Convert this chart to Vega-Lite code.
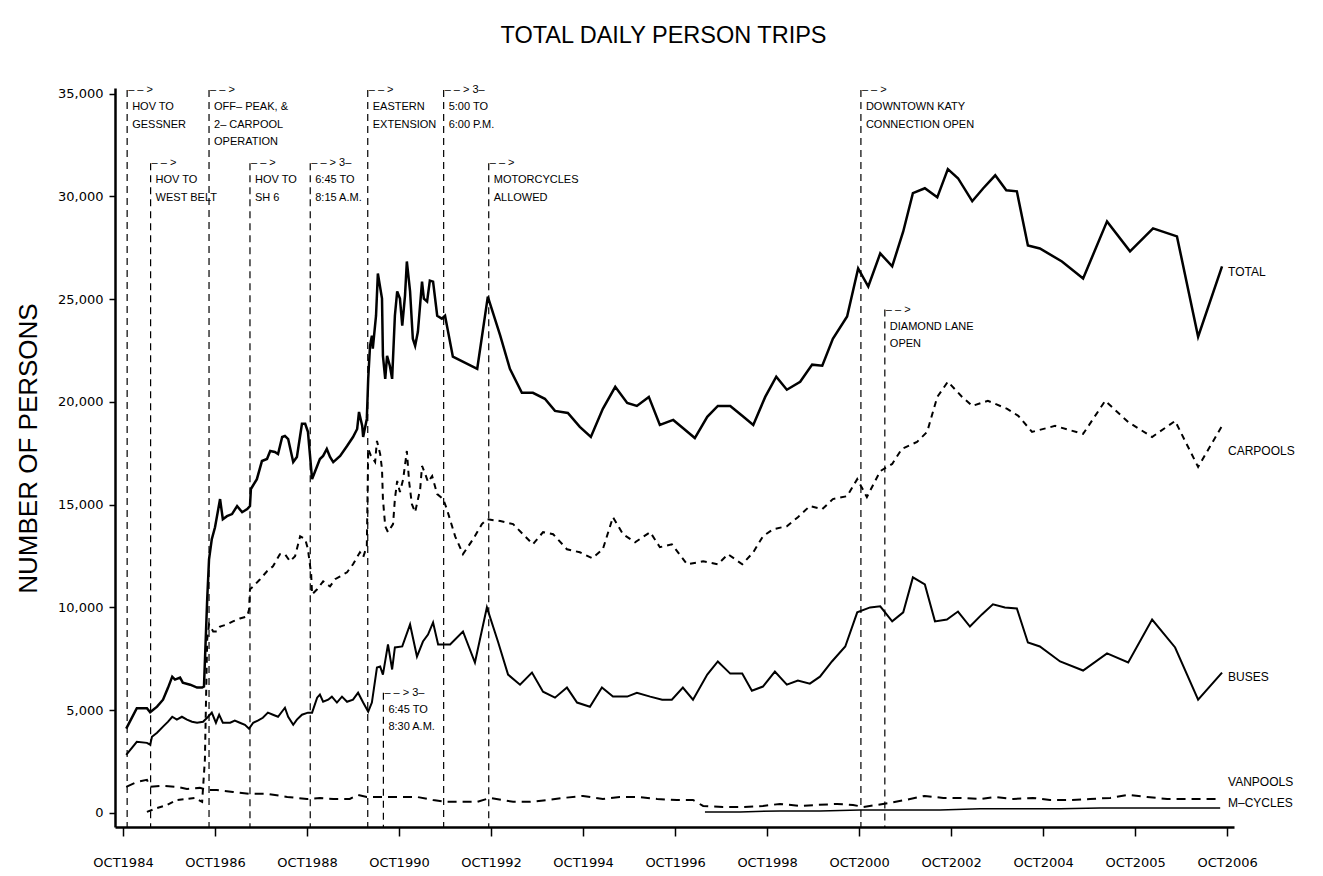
{
  "$schema": "https://vega.github.io/schema/vega-lite/v6.json",
  "width": 1119,
  "height": 739,
  "autosize": {"type": "none"},
  "padding": {"left": 115, "top": 88, "right": 89, "bottom": 49},
  "background": "white",
  "title": {
    "text": "TOTAL DAILY PERSON TRIPS",
    "font": "Liberation Sans",
    "fontSize": 23.5,
    "fontWeight": "normal",
    "color": "black",
    "anchor": "middle",
    "frame": "group",
    "dx": -11,
    "offset": 37
  },
  "config": {"view": {"stroke": null}},
  "datasets": {
    "total": [
      {"year":1984.82,"persons":4100},{"year":1985.05,"persons":5100},{"year":1985.27,"persons":5100},{"year":1985.34,"persons":4900},
      {"year":1985.49,"persons":5170},{"year":1985.62,"persons":5510},{"year":1985.73,"persons":6100},{"year":1985.82,"persons":6630},
      {"year":1985.88,"persons":6490},{"year":1985.99,"persons":6590},{"year":1986.05,"persons":6340},{"year":1986.21,"persons":6240},
      {"year":1986.36,"persons":6100},{"year":1986.47,"persons":6100},{"year":1986.51,"persons":6150},{"year":1986.58,"persons":10390},
      {"year":1986.62,"persons":12340},{"year":1986.68,"persons":13320},{"year":1986.75,"persons":13900},{"year":1986.86,"persons":15270},
      {"year":1986.92,"persons":14290},{"year":1987.01,"persons":14440},{"year":1987.12,"persons":14540},{"year":1987.23,"persons":14930},
      {"year":1987.34,"persons":14630},{"year":1987.45,"persons":14780},{"year":1987.51,"persons":14930},{"year":1987.53,"persons":15760},
      {"year":1987.66,"persons":16240},{"year":1987.77,"persons":17120},{"year":1987.88,"persons":17220},{"year":1987.95,"persons":17610},
      {"year":1988.05,"persons":17560},{"year":1988.12,"persons":17460},{"year":1988.21,"persons":18290},{"year":1988.27,"persons":18340},
      {"year":1988.34,"persons":18190},{"year":1988.45,"persons":17070},{"year":1988.53,"persons":17320},{"year":1988.64,"persons":18930},
      {"year":1988.71,"persons":18930},{"year":1988.77,"persons":18540},{"year":1988.86,"persons":16240},{"year":1988.92,"persons":16590},
      {"year":1989.03,"persons":17220},{"year":1989.10,"persons":17370},{"year":1989.18,"persons":17710},{"year":1989.25,"persons":17320},
      {"year":1989.32,"persons":17070},{"year":1989.47,"persons":17370},{"year":1989.62,"persons":17850},{"year":1989.75,"persons":18290},
      {"year":1989.84,"persons":18680},{"year":1989.88,"persons":19510},{"year":1989.95,"persons":18830},{"year":1989.97,"persons":18290},
      {"year":1990.05,"persons":19170},{"year":1990.08,"persons":21120},{"year":1990.12,"persons":22730},{"year":1990.16,"persons":23220},
      {"year":1990.18,"persons":22590},{"year":1990.25,"persons":24190},{"year":1990.29,"persons":26240},{"year":1990.38,"persons":25020},
      {"year":1990.40,"persons":22240},{"year":1990.45,"persons":21120},{"year":1990.49,"persons":22240},{"year":1990.55,"persons":21760},
      {"year":1990.60,"persons":21120},{"year":1990.66,"persons":24190},{"year":1990.71,"persons":25370},{"year":1990.77,"persons":25020},
      {"year":1990.82,"persons":23710},{"year":1990.88,"persons":25170},{"year":1990.92,"persons":26830},{"year":1990.99,"persons":25370},
      {"year":1991.05,"persons":23070},{"year":1991.10,"persons":22730},{"year":1991.16,"persons":23410},{"year":1991.25,"persons":25850},
      {"year":1991.29,"persons":25020},{"year":1991.36,"persons":24880},{"year":1991.42,"persons":25900},{"year":1991.49,"persons":25850},
      {"year":1991.58,"persons":24190},{"year":1991.68,"persons":24050},{"year":1991.75,"persons":24190},{"year":1991.92,"persons":22200},
      {"year":1992.45,"persons":21610},{"year":1992.68,"persons":25120},{"year":1992.95,"persons":23220},{"year":1993.16,"persons":21610},
      {"year":1993.42,"persons":20440},{"year":1993.66,"persons":20440},{"year":1993.92,"persons":20150},{"year":1994.14,"persons":19560},
      {"year":1994.42,"persons":19460},{"year":1994.68,"persons":18780},{"year":1994.92,"persons":18290},{"year":1995.18,"persons":19660},
      {"year":1995.45,"persons":20730},{"year":1995.71,"persons":19950},{"year":1995.92,"persons":19800},{"year":1996.18,"persons":20240},
      {"year":1996.42,"persons":18880},{"year":1996.71,"persons":19120},{"year":1996.92,"persons":18730},{"year":1997.18,"persons":18240},
      {"year":1997.45,"persons":19270},{"year":1997.68,"persons":19800},{"year":1997.95,"persons":19800},{"year":1998.21,"persons":19320},
      {"year":1998.45,"persons":18880},{"year":1998.71,"persons":20240},{"year":1998.95,"persons":21220},{"year":1999.18,"persons":20590},
      {"year":1999.47,"persons":20980},{"year":1999.73,"persons":21810},{"year":1999.95,"persons":21760},{"year":2000.18,"persons":23070},
      {"year":2000.49,"persons":24150},{"year":2000.73,"persons":26490},{"year":2000.95,"persons":25610},{"year":2001.21,"persons":27220},
      {"year":2001.47,"persons":26590},{"year":2001.71,"persons":28290},{"year":2001.92,"persons":30150},{"year":2002.18,"persons":30390},
      {"year":2002.45,"persons":29950},{"year":2002.68,"persons":31320},{"year":2002.90,"persons":30880},{"year":2003.21,"persons":29760},
      {"year":2003.45,"persons":30390},{"year":2003.71,"persons":31020},{"year":2003.95,"persons":30290},{"year":2004.18,"persons":30240},
      {"year":2004.42,"persons":27610},{"year":2004.68,"persons":27460},{"year":2005.16,"persons":26830},{"year":2005.62,"persons":26000},
      {"year":2006.14,"persons":28780},{"year":2006.64,"persons":27320},{"year":2007.14,"persons":28440},{"year":2007.66,"persons":28050},
      {"year":2008.12,"persons":23170},{"year":2008.64,"persons":26590}
    ],
    "carpools": [
      {"year":1985.27,"persons":50},{"year":1985.49,"persons":240},{"year":1985.71,"persons":390},{"year":1985.92,"persons":630},
      {"year":1986.14,"persons":680},{"year":1986.32,"persons":730},{"year":1986.47,"persons":540},{"year":1986.53,"persons":2590},
      {"year":1986.58,"persons":8440},{"year":1986.62,"persons":9170},{"year":1986.71,"persons":8830},{"year":1986.79,"persons":8830},
      {"year":1986.86,"persons":9070},{"year":1987.01,"persons":9170},{"year":1987.14,"persons":9320},{"year":1987.29,"persons":9460},
      {"year":1987.45,"persons":9560},{"year":1987.49,"persons":9900},{"year":1987.51,"persons":10880},{"year":1987.58,"persons":11020},
      {"year":1987.73,"persons":11370},{"year":1987.88,"persons":11760},{"year":1988.01,"persons":12000},{"year":1988.16,"persons":12590},
      {"year":1988.27,"persons":12590},{"year":1988.38,"persons":12240},{"year":1988.49,"persons":12490},{"year":1988.60,"persons":13460},
      {"year":1988.71,"persons":13320},{"year":1988.77,"persons":12830},{"year":1988.84,"persons":11610},{"year":1988.86,"persons":10630},
      {"year":1988.97,"persons":10880},{"year":1989.10,"persons":11270},{"year":1989.25,"persons":11020},{"year":1989.36,"persons":11370},
      {"year":1989.47,"persons":11510},{"year":1989.62,"persons":11710},{"year":1989.75,"persons":12100},{"year":1989.90,"persons":12680},
      {"year":1989.97,"persons":12440},{"year":1990.05,"persons":12980},{"year":1990.08,"persons":17710},{"year":1990.14,"persons":17370},
      {"year":1990.23,"persons":17070},{"year":1990.27,"persons":18100},{"year":1990.34,"persons":17460},{"year":1990.38,"persons":16730},
      {"year":1990.40,"persons":15270},{"year":1990.45,"persons":13950},{"year":1990.51,"persons":13660},{"year":1990.62,"persons":14050},
      {"year":1990.66,"persons":15270},{"year":1990.71,"persons":16150},{"year":1990.77,"persons":15610},{"year":1990.84,"persons":16240},
      {"year":1990.92,"persons":17610},{"year":1990.97,"persons":16100},{"year":1991.03,"persons":15020},{"year":1991.10,"persons":14630},
      {"year":1991.21,"persons":15760},{"year":1991.25,"persons":16880},{"year":1991.32,"persons":16490},{"year":1991.38,"persons":16100},
      {"year":1991.47,"persons":16390},{"year":1991.58,"persons":15510},{"year":1991.71,"persons":15270},{"year":1991.79,"persons":14780},
      {"year":1991.97,"persons":13460},{"year":1992.14,"persons":12590},{"year":1992.36,"persons":13320},{"year":1992.55,"persons":14050},
      {"year":1992.66,"persons":14290},{"year":1992.95,"persons":14200},{"year":1993.23,"persons":14050},{"year":1993.66,"persons":13070},
      {"year":1993.88,"persons":13660},{"year":1994.10,"persons":13560},{"year":1994.40,"persons":12830},{"year":1994.68,"persons":12680},
      {"year":1994.95,"persons":12390},{"year":1995.18,"persons":12830},{"year":1995.40,"persons":14390},{"year":1995.62,"persons":13560},
      {"year":1995.88,"persons":13170},{"year":1996.21,"persons":13660},{"year":1996.42,"persons":12930},{"year":1996.68,"persons":13070},
      {"year":1997.01,"persons":12100},{"year":1997.36,"persons":12240},{"year":1997.68,"persons":12100},{"year":1997.90,"persons":12590},
      {"year":1998.21,"persons":12100},{"year":1998.45,"persons":12680},{"year":1998.66,"persons":13460},{"year":1998.88,"persons":13800},
      {"year":1999.18,"persons":13950},{"year":1999.42,"persons":14390},{"year":1999.68,"persons":14930},{"year":1999.95,"persons":14780},
      {"year":2000.18,"persons":15270},{"year":2000.49,"persons":15410},{"year":2000.71,"persons":16240},{"year":2000.92,"persons":15370},
      {"year":2001.21,"persons":16630},{"year":2001.47,"persons":16980},{"year":2001.68,"persons":17710},{"year":2002.01,"persons":18050},
      {"year":2002.23,"persons":18540},{"year":2002.45,"persons":20240},{"year":2002.68,"persons":20980},{"year":2002.99,"persons":20240},
      {"year":2003.21,"persons":19800},{"year":2003.55,"persons":20050},{"year":2003.97,"persons":19660},{"year":2004.21,"persons":19320},
      {"year":2004.51,"persons":18540},{"year":2005.01,"persons":18830},{"year":2005.62,"persons":18440},{"year":2006.10,"persons":20050},
      {"year":2006.60,"persons":19020},{"year":2007.12,"persons":18290},{"year":2007.62,"persons":19070},{"year":2008.12,"persons":16830},
      {"year":2008.64,"persons":18830}
    ],
    "buses": [
      {"year":1984.82,"persons":2830},{"year":1985.05,"persons":3460},{"year":1985.27,"persons":3410},{"year":1985.34,"persons":3320},
      {"year":1985.38,"persons":3710},{"year":1985.49,"persons":3900},{"year":1985.62,"persons":4200},{"year":1985.73,"persons":4440},
      {"year":1985.82,"persons":4680},{"year":1985.92,"persons":4540},{"year":1986.03,"persons":4680},{"year":1986.14,"persons":4540},
      {"year":1986.25,"persons":4440},{"year":1986.36,"persons":4390},{"year":1986.49,"persons":4440},{"year":1986.60,"persons":4680},
      {"year":1986.68,"persons":4880},{"year":1986.77,"persons":4390},{"year":1986.84,"persons":4780},{"year":1986.92,"persons":4390},
      {"year":1987.08,"persons":4390},{"year":1987.18,"persons":4490},{"year":1987.29,"persons":4390},{"year":1987.40,"persons":4290},
      {"year":1987.49,"persons":4100},{"year":1987.58,"persons":4390},{"year":1987.68,"persons":4490},{"year":1987.79,"persons":4630},
      {"year":1987.90,"persons":4880},{"year":1988.01,"persons":4780},{"year":1988.12,"persons":4680},{"year":1988.27,"persons":5120},
      {"year":1988.34,"persons":4680},{"year":1988.45,"persons":4290},{"year":1988.53,"persons":4540},{"year":1988.64,"persons":4780},
      {"year":1988.77,"persons":4880},{"year":1988.86,"persons":4880},{"year":1988.97,"persons":5610},{"year":1989.03,"persons":5760},
      {"year":1989.10,"persons":5410},{"year":1989.21,"persons":5510},{"year":1989.29,"persons":5660},{"year":1989.40,"persons":5370},
      {"year":1989.51,"persons":5660},{"year":1989.62,"persons":5410},{"year":1989.75,"persons":5510},{"year":1989.86,"persons":5850},
      {"year":1989.97,"persons":5370},{"year":1990.08,"persons":4930},{"year":1990.16,"persons":5370},{"year":1990.27,"persons":7070},
      {"year":1990.34,"persons":7120},{"year":1990.40,"persons":6730},{"year":1990.51,"persons":8200},{"year":1990.60,"persons":6980},
      {"year":1990.66,"persons":8050},{"year":1990.82,"persons":8100},{"year":1990.99,"persons":9170},{"year":1991.14,"persons":7610},
      {"year":1991.27,"persons":8340},{"year":1991.38,"persons":8680},{"year":1991.49,"persons":9270},{"year":1991.60,"persons":8200},
      {"year":1991.86,"persons":8200},{"year":1992.14,"persons":8830},{"year":1992.40,"persons":7320},{"year":1992.66,"persons":10000},
      {"year":1992.90,"persons":8340},{"year":1993.12,"persons":6730},{"year":1993.38,"persons":6240},{"year":1993.64,"persons":6830},
      {"year":1993.88,"persons":5900},{"year":1994.14,"persons":5610},{"year":1994.40,"persons":6100},{"year":1994.62,"persons":5370},
      {"year":1994.90,"persons":5170},{"year":1995.16,"persons":6100},{"year":1995.40,"persons":5660},{"year":1995.71,"persons":5660},
      {"year":1995.92,"persons":5850},{"year":1996.21,"persons":5660},{"year":1996.47,"persons":5510},{"year":1996.68,"persons":5510},
      {"year":1996.92,"persons":6100},{"year":1997.14,"persons":5510},{"year":1997.45,"persons":6730},{"year":1997.68,"persons":7370},
      {"year":1997.95,"persons":6780},{"year":1998.21,"persons":6780},{"year":1998.42,"persons":5950},{"year":1998.66,"persons":6150},
      {"year":1998.92,"persons":6880},{"year":1999.18,"persons":6240},{"year":1999.42,"persons":6440},{"year":1999.68,"persons":6290},
      {"year":1999.90,"persons":6630},{"year":2000.16,"persons":7370},{"year":2000.45,"persons":8100},{"year":2000.71,"persons":9760},
      {"year":2000.99,"persons":10000},{"year":2001.21,"persons":10050},{"year":2001.47,"persons":9320},{"year":2001.71,"persons":9760},
      {"year":2001.92,"persons":11460},{"year":2002.18,"persons":11120},{"year":2002.40,"persons":9320},{"year":2002.66,"persons":9410},
      {"year":2002.90,"persons":9800},{"year":2003.16,"persons":9070},{"year":2003.42,"persons":9660},{"year":2003.66,"persons":10150},
      {"year":2003.92,"persons":10000},{"year":2004.18,"persons":9950},{"year":2004.42,"persons":8290},{"year":2004.68,"persons":8100},
      {"year":2005.12,"persons":7370},{"year":2005.62,"persons":6930},{"year":2006.14,"persons":7760},{"year":2006.60,"persons":7320},
      {"year":2007.12,"persons":9410},{"year":2007.62,"persons":8050},{"year":2008.12,"persons":5510},{"year":2008.64,"persons":6830}
    ],
    "vanpools": [
      {"year":1984.82,"persons":1270},{"year":1985.05,"persons":1510},{"year":1985.27,"persons":1610},{"year":1985.34,"persons":1270},
      {"year":1985.62,"persons":1320},{"year":1985.92,"persons":1270},{"year":1986.14,"persons":1170},{"year":1986.42,"persons":1220},
      {"year":1986.60,"persons":1120},{"year":1986.79,"persons":1120},{"year":1987.14,"persons":1020},{"year":1987.49,"persons":930},
      {"year":1987.88,"persons":930},{"year":1988.32,"persons":780},{"year":1988.75,"persons":680},{"year":1989.03,"persons":730},
      {"year":1989.32,"persons":680},{"year":1989.68,"persons":680},{"year":1989.86,"persons":880},{"year":1990.05,"persons":780},
      {"year":1990.40,"persons":780},{"year":1990.77,"persons":780},{"year":1991.14,"persons":780},{"year":1991.49,"persons":630},
      {"year":1991.79,"persons":540},{"year":1992.01,"persons":540},{"year":1992.45,"persons":540},{"year":1992.73,"persons":730},
      {"year":1993.23,"persons":540},{"year":1993.60,"persons":540},{"year":1993.97,"persons":630},{"year":1994.32,"persons":730},
      {"year":1994.75,"persons":830},{"year":1995.18,"persons":680},{"year":1995.55,"persons":780},{"year":1995.95,"persons":780},
      {"year":1996.36,"persons":680},{"year":1996.79,"persons":630},{"year":1997.14,"persons":630},{"year":1997.36,"persons":340},
      {"year":1997.79,"persons":290},{"year":1998.23,"persons":290},{"year":1998.66,"persons":340},{"year":1999.03,"persons":440},
      {"year":1999.47,"persons":340},{"year":1999.84,"persons":390},{"year":2000.27,"persons":440},{"year":2000.62,"persons":390},
      {"year":2000.84,"persons":290},{"year":2001.14,"persons":390},{"year":2001.42,"persons":490},{"year":2001.86,"persons":680},
      {"year":2002.18,"persons":830},{"year":2002.58,"persons":730},{"year":2003.01,"persons":730},{"year":2003.38,"persons":680},
      {"year":2003.71,"persons":780},{"year":2004.10,"persons":680},{"year":2004.53,"persons":730},{"year":2004.90,"persons":630},
      {"year":2005.34,"persons":630},{"year":2005.77,"persons":680},{"year":2006.21,"persons":730},{"year":2006.60,"persons":880},
      {"year":2007.01,"persons":780},{"year":2007.45,"persons":680},{"year":2007.95,"persons":680},{"year":2008.60,"persons":680}
    ],
    "mcycles": [
      {"year":1997.40,"persons":50},{"year":1998.16,"persons":50},{"year":1999.03,"persons":100},{"year":1999.90,"persons":100},
      {"year":2000.77,"persons":150},{"year":2001.64,"persons":150},{"year":2002.51,"persons":150},{"year":2003.38,"persons":200},
      {"year":2004.25,"persons":200},{"year":2005.12,"persons":200},{"year":2005.99,"persons":240},{"year":2006.86,"persons":240},
      {"year":2007.73,"persons":240},{"year":2008.60,"persons":240}
    ],
    "events": [
      {"year":1984.84,"persons":35170,"marker":"– – >","label":"HOV TO|GESSNER"},
      {"year":1985.35,"persons":31610,"marker":"– – >","label":"HOV TO|WEST BELT"},
      {"year":1986.62,"persons":35170,"marker":"– – >","label":"OFF– PEAK, &|2– CARPOOL|OPERATION"},
      {"year":1987.51,"persons":31610,"marker":"– – >","label":"HOV TO|SH 6"},
      {"year":1988.82,"persons":31610,"marker":"– – >  3–","label":"6:45 TO|8:15 A.M."},
      {"year":1990.07,"persons":35170,"marker":"– – >","label":"EASTERN|EXTENSION"},
      {"year":1990.41,"persons":5850,"marker":"– – >  3–","label":"6:45 TO|8:30 A.M."},
      {"year":1991.72,"persons":35170,"marker":"– – >  3–","label":"5:00 TO|6:00 P.M."},
      {"year":1992.70,"persons":31610,"marker":"– – >","label":"MOTORCYCLES|ALLOWED"},
      {"year":2000.79,"persons":35170,"marker":"– – >","label":"DOWNTOWN KATY|CONNECTION OPEN"},
      {"year":2001.31,"persons":24490,"marker":"– – >","label":"DIAMOND LANE|OPEN"}
    ],
    "labels": [
      {"year":2008.77,"persons":26340,"label":"TOTAL"},
      {"year":2008.77,"persons":17610,"label":"CARPOOLS"},
      {"year":2008.77,"persons":6630,"label":"BUSES"},
      {"year":2008.77,"persons":1510,"label":"VANPOOLS"},
      {"year":2008.77,"persons":490,"label":"M–CYCLES"}
    ]
  },
  "encoding": {
    "x": {
      "field": "year",
      "type": "quantitative",
      "scale": {"domain": [1984.576, 2008.9], "nice": false, "zero": false},
      "axis": {
        "title": null,
        "values": [1984.75, 1986.75, 1988.75, 1990.75, 1992.75, 1994.75, 1996.75, 1998.75, 2000.75, 2002.75, 2004.75, 2006.75, 2008.75],
        "labelExpr": "datum.value > 2008 ? 'OCT2006' : (datum.value > 2006 ? 'OCT2005' : 'OCT' + floor(datum.value))",
        "grid": false,
        "domainColor": "black",
        "domainWidth": 2.5,
        "tickColor": "black",
        "tickWidth": 1.5,
        "tickSize": 9,
        "labelPadding": 20,
        "labelFont": "DejaVu Sans",
        "labelFontSize": 13,
        "labelColor": "black",
        "labelFlush": false,
        "labelOverlap": false
      }
    },
    "y": {
      "field": "persons",
      "type": "quantitative",
      "scale": {"domain": [-683, 35268], "nice": false, "zero": false},
      "axis": {
        "title": "NUMBER OF PERSONS",
        "titleFont": "Liberation Sans",
        "titleFontSize": 26,
        "titleFontWeight": "normal",
        "titleColor": "black",
        "titleAngle": 270,
        "titleAlign": "center",
        "titleBaseline": "middle",
        "titleX": -87,
        "titleY": 360,
        "values": [0, 5000, 10000, 15000, 20000, 25000, 30000, 35000],
        "format": ",.0f",
        "grid": false,
        "domainColor": "black",
        "domainWidth": 2.5,
        "tickColor": "black",
        "tickWidth": 1.5,
        "tickSize": 6,
        "labelPadding": 6,
        "labelFont": "DejaVu Sans",
        "labelFontSize": 13,
        "labelColor": "black",
        "labelOverlap": false
      }
    }
  },
  "layer": [
    {
      "data": {"name": "events"},
      "mark": {"type": "rule", "color": "black", "strokeWidth": 1.2, "strokeDash": [7, 5]},
      "encoding": {"y2": {"datum": -683}}
    },
    {
      "data": {"name": "events"},
      "mark": {"type": "text", "align": "left", "baseline": "middle", "dx": 1, "font": "Liberation Sans", "fontSize": 11, "color": "black"},
      "encoding": {"text": {"field": "marker"}}
    },
    {
      "data": {"name": "events"},
      "mark": {"type": "text", "align": "left", "baseline": "top", "dx": 5, "dy": 11, "lineBreak": "|", "lineHeight": 17.5, "font": "Liberation Sans", "fontSize": 11, "color": "black"},
      "encoding": {"text": {"field": "label"}}
    },
    {
      "data": {"name": "vanpools"},
      "mark": {"type": "line", "color": "black", "strokeWidth": 2, "strokeDash": [9, 6]}
    },
    {
      "data": {"name": "mcycles"},
      "mark": {"type": "line", "color": "black", "strokeWidth": 1.5}
    },
    {
      "data": {"name": "buses"},
      "mark": {"type": "line", "color": "black", "strokeWidth": 2}
    },
    {
      "data": {"name": "carpools"},
      "mark": {"type": "line", "color": "black", "strokeWidth": 2, "strokeDash": [6, 5]}
    },
    {
      "data": {"name": "total"},
      "mark": {"type": "line", "color": "black", "strokeWidth": 2.5}
    },
    {
      "data": {"name": "labels"},
      "mark": {"type": "text", "align": "left", "baseline": "middle", "font": "Liberation Sans", "fontSize": 12, "color": "black"},
      "encoding": {"text": {"field": "label"}}
    }
  ]
}
